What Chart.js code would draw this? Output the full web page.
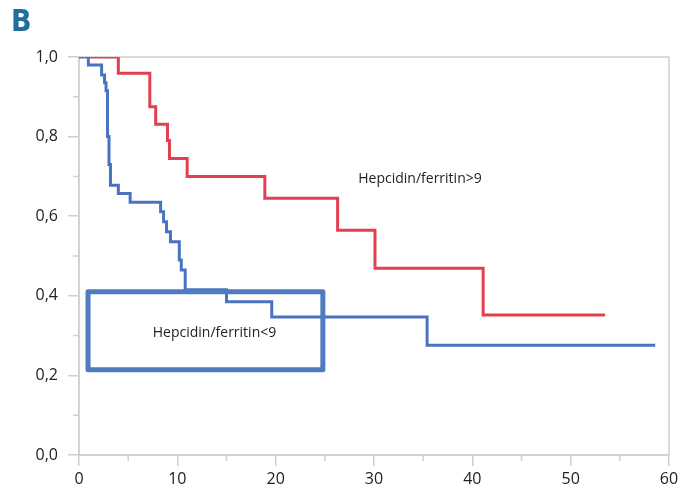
<!DOCTYPE html>
<html><head><meta charset="utf-8">
<script src="https://cdn.jsdelivr.net/npm/chart.js@4/dist/chart.umd.min.js"></script>
<style>
html,body{margin:0;padding:0;background:#fff;}
#wrap{position:relative;width:687px;height:490px;}
#lbl{position:absolute;left:11px;top:3px;font:bold 30px "Liberation Sans Narrow","DejaVu Sans Condensed",sans-serif;color:#1f6f9f;}
</style></head><body>
<div id="wrap"><canvas id="c" width="687" height="490"></canvas><div id="lbl">B</div></div>
<script>
// Kaplan-Meier steps (time of change, survival after change)
const redTimes  = [1.0, 4.0, 7.2, 7.8, 9.0, 9.2, 11.0, 18.9, 26.3, 30.1, 41.1, 53.5];
const redSurv   = [1.0, 0.959, 0.875, 0.831, 0.79, 0.745, 0.70, 0.645, 0.565, 0.469, 0.352, 0.352];
const blueTimes = [0, 0.95, 2.3, 2.6, 2.75, 2.9, 3.05, 3.2, 4.0, 5.2, 8.3, 8.6, 8.9, 9.3, 10.2, 10.4, 10.8, 15.0, 19.6, 35.4, 58.6];
const blueSurv  = [1.0, 0.98, 0.955, 0.935, 0.915, 0.80, 0.73, 0.678, 0.657, 0.635, 0.611, 0.586, 0.561, 0.536, 0.49, 0.465, 0.415, 0.385, 0.347, 0.276, 0.276];
const redLabel = 'Hepcidin/ferritin>9';
const blueLabel = 'Hepcidin/ferritin<9';
const redLabelPos = [28.4, 0.693];
const blueLabelPos = [7.5, 0.307];
const boxX = [0.92, 24.8];
const boxY = [0.214, 0.41];
const xMin = 0, xMax = 60, xStep = 5, xLabelEvery = 10;
const yMin = 0, yMax = 1, yStep = 0.1, yLabelEvery = 0.2;

const redColor = '#e2404f';
const blueColor = '#4a73bf';
const frameColor = '#cfcfcf';
const FONT = '"Open Sans", sans-serif';
const isXMajor = v => Math.round(v) % xLabelEvery === 0;
const isYMajor = v => Math.round(v * 10) % Math.round(yLabelEvery * 10) === 0;

const framePlugin = {
  id: 'frame',
  beforeDatasetsDraw(chart) {
    const {ctx, chartArea: a} = chart;
    const xs = chart.scales.x, ys = chart.scales.y;
    ctx.save();
    ctx.strokeStyle = frameColor;
    ctx.lineWidth = 1.5;
    ctx.strokeRect(a.left, a.top, a.right - a.left, a.bottom - a.top);
    // short minor ticks
    ctx.beginPath();
    xs.ticks.forEach(t => { if (!isXMajor(t.value)) { const p = xs.getPixelForValue(t.value); ctx.moveTo(p, a.bottom); ctx.lineTo(p, a.bottom + 6); } });
    ys.ticks.forEach(t => { if (!isYMajor(t.value)) { const p = ys.getPixelForValue(t.value); ctx.moveTo(a.left, p); ctx.lineTo(a.left - 6, p); } });
    ctx.stroke();
    ctx.restore();
  },
  afterDatasetsDraw(chart) {
    const {ctx} = chart;
    const xs = chart.scales.x, ys = chart.scales.y;
    ctx.save();
    const x0 = xs.getPixelForValue(boxX[0]), x1 = xs.getPixelForValue(boxX[1]);
    const y0 = ys.getPixelForValue(boxY[1]), y1 = ys.getPixelForValue(boxY[0]);
    ctx.strokeStyle = '#4f7cc0';
    ctx.lineWidth = 5;
    ctx.lineJoin = 'round';
    ctx.strokeRect(x0, y0, x1 - x0, y1 - y0);
    ctx.fillStyle = '#222';
    ctx.font = '14px ' + FONT;
    ctx.textAlign = 'left';
    ctx.textBaseline = 'middle';
    ctx.fillText(redLabel, xs.getPixelForValue(redLabelPos[0]), ys.getPixelForValue(redLabelPos[1]));
    ctx.fillText(blueLabel, xs.getPixelForValue(blueLabelPos[0]), ys.getPixelForValue(blueLabelPos[1]));
    ctx.restore();
  }
};

new Chart(document.getElementById('c'), {
  type: 'line',
  data: {
    datasets: [
      { data: redTimes.map((t, i) => ({x: t, y: redSurv[i]})), borderColor: redColor, borderWidth: 3, stepped: 'before', pointRadius: 0, fill: false },
      { data: blueTimes.map((t, i) => ({x: t, y: blueSurv[i]})), borderColor: blueColor, borderWidth: 3, stepped: 'before', pointRadius: 0, fill: false }
    ]
  },
  options: {
    responsive: false,
    devicePixelRatio: 1,
    animation: false,
    layout: { padding: { top: 57, right: 18, left: 0, bottom: 0 } },
    plugins: { legend: { display: false }, tooltip: { enabled: false } },
    scales: {
      x: {
        type: 'linear', min: xMin, max: xMax,
        afterFit(s) { s.height = 35; },
        border: { color: frameColor, width: 1.5 },
        grid: { drawOnChartArea: false, drawTicks: true, tickLength: 11, lineWidth: 1.5,
          tickColor: c => (c.tick && isXMajor(c.tick.value)) ? frameColor : 'rgba(0,0,0,0)' },
        ticks: { stepSize: xStep, autoSkip: false, maxRotation: 0, padding: 4, color: '#222', font: { family: FONT, size: 16 },
          callback: v => (isXMajor(v) ? String(Math.round(v)) : '') }
      },
      y: {
        type: 'linear', min: yMin, max: yMax,
        afterFit(s) { s.width = 79; },
        border: { color: frameColor, width: 1.5 },
        grid: { drawOnChartArea: false, drawTicks: true, tickLength: 11, lineWidth: 1.5,
          tickColor: c => (c.tick && isYMajor(c.tick.value)) ? frameColor : 'rgba(0,0,0,0)' },
        ticks: { stepSize: yStep, autoSkip: false, padding: 10, color: '#222', font: { family: FONT, size: 16 },
          callback: v => (isYMajor(v) ? v.toFixed(1).replace('.', ',') : '') }
      }
    }
  },
  plugins: [framePlugin]
});
</script>
</body></html>
